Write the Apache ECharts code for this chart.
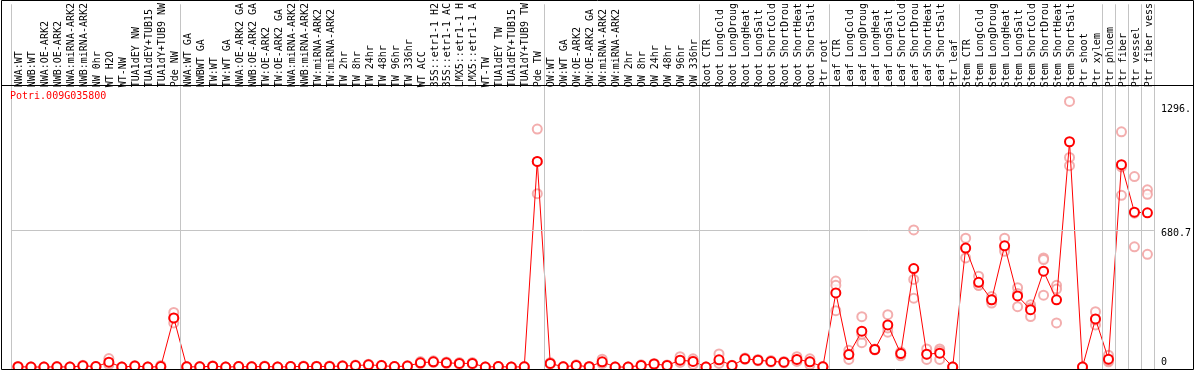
<!DOCTYPE html>
<html><head><meta charset="utf-8">
<script src="https://cdn.jsdelivr.net/npm/echarts@6/dist/echarts.min.js"></script>
<style>html,body{margin:0;padding:0;background:#fff}#c{width:1194px;height:370px}</style>
</head><body><div id="c"></div><script>
const geneName = 'Potri.009G035800';
const categories = [
'NWA:WT','NWB:WT','NWA:OE-ARK2','NWB:OE-ARK2','NWA:miRNA-ARK2','NWB:miRNA-ARK2','NW 0hr','WT H2O','WT-NW','TUA1dEY NW','TUA1dEY+TUB15','TUA1dY+TUB9 NW','Pde NW',
'NWA:WT GA','NWBWT GA','TW:WT','TW:WT GA','NWA:OE-ARK2 GA','NWB:OE-ARK2 GA','TW:OE-ARK2','TW:OE-ARK2 GA','NWA:miRNA-ARK2','NWB:miRNA-ARK2','TW:miRNA-ARK2','TW:miRNA-ARK2',
'TW 2hr','TW 8hr','TW 24hr','TW 48hr','TW 96hr','TW 336hr','WT ACC','35S::etr1-1 H2','35S::etr1-1 AC','LMX5::etr1-1 H','LMX5::etr1-1 A','WT-TW','TUA1dEY TW','TUA1dEY+TUB15','TUA1dY+TUB9 TW','Pde TW',
'OW:WT','OW:WT GA','OW:OE-ARK2','OW:OE-ARK2 GA','OW:miRNA-ARK2','OW:miRNA-ARK2','OW 2hr','OW 8hr','OW 24hr','OW 48hr','OW 96hr','OW 336hr',
'Root CTR','Root LongCold','Root LongDroug','Root LongHeat','Root LongSalt','Root ShortCold','Root ShortDrou','Root ShortHeat','Root ShortSalt','Ptr root',
'Leaf CTR','Leaf LongCold','Leaf LongDroug','Leaf LongHeat','Leaf LongSalt','Leaf ShortCold','Leaf ShortDrou','Leaf ShortHeat','Leaf ShortSalt','Ptr leaf',
'Stem CTR','Stem LongCold','Stem LongDroug','Stem LongHeat','Stem LongSalt','Stem ShortCold','Stem ShortDrou','Stem ShortHeat','Stem ShortSalt','Ptr shoot',
'Ptr xylem','Ptr phloem','Ptr fiber','Ptr vessel','Ptr fiber vess'
];
const meanValues = [
1.5,0,0,1,0,6,2,24,0,5,0,2,244,
1,1,4,0,2,1,3,0,2,3,3,3,
5,7,11,7,2,5,21,26,21,18,18,0,2,0,1,1021,
18,1,8,1.5,26,0,0,8,15,8,34,28,
0,36,7,41,34,28,24,38,26,1,
368,62,178,87,209,67,489,64,69,0,
591,421,334,602,353,285,476,334,1119,0,
239,39,1005,769,766
];
const rep1 = [
3,0,0,2,0,9,3,42,0,7,0,8,271,
2,2,6,0,3,2,5,0,3,5,4,5,
7,10,14,9,3,7,27,31,25,22,22,0,3,0,2,1182,
22,2,11,2,39,0,0,11,18,10,51,41,
0,65,9,45,38,32,28,51,41,2,
427,83,250,89,260,75,681,90,90,0,
640,451,350,640,394,309,542,406,1319,0,
275,59,1168,946,880
];
const rep2 = [
1,0,0,1,0,5,2,18,0,4,0,0,219,
1,1,3,0,2,1,2,0,2,2,3,2,
4,6,10,6,2,4,19,24,20,17,16,0,2,0,1,861,
16,1,7,1,22,0,0,7,14,7,28,30,
0,25,6,40,33,27,23,35,26,1,
406,38,121,85,173,56,435,38,38,0,
542,406,318,591,300,251,534,387,1041,0,
209,26,853,597,858
];
const rep3 = [
0.5,0,0,0,0,4,1,12,0,4,0,0,242,
0,0,3,0,1,0,2,0,1,2,2,2,
4,5,9,6,1,4,17,23,18,15,16,0,1,0,0,1020,
16,0,6,1.5,17,0,0,6,13,7,23,13,
0,18,6,38,31,25,21,28,11,0,
280,65,163,87,194,70,342,64,79,0,
591,406,334,575,365,295,357,219,1000,0,
233,32,994,764,560
];
const groupBoundaries = [0,13,41,53,63,73,84,85,86,87,88];
const yTickValues = [0, 680.7, 1296];
const yTickLabels = ['0', '680.7', '1296.'];
const gridLineValues = [680.7];

const FONT = 'DejaVu Sans Mono';
const chart = echarts.init(document.getElementById('c'), null, {renderer: 'canvas'});
const repData = [];
[rep1, rep2, rep3].forEach(r => r.forEach((v, i) => repData.push([i, v])));

chart.setOption({
  animation: false,
  backgroundColor: '#ffffff',
  title: {
    text: geneName, left: 10, top: 91, padding: 0,
    textStyle: {fontFamily: FONT, fontSize: 10, fontWeight: 'normal', color: '#ff0000'}
  },
  grid: {left: 11.5, right: 38.5, top: 0, bottom: 1, containLabel: false},
  xAxis: [{
    type: 'category', data: categories, position: 'top', offset: -85,
    boundaryGap: true,
    axisLine: {show: false}, axisTick: {show: false}, splitLine: {show: false},
    axisLabel: {rotate: 90, interval: 0, margin: 2, fontFamily: FONT, fontSize: 10, color: '#000',
      formatter: function (v) { return '{c|' + v + '}'; },
      rich: {c: {fontFamily: FONT, fontSize: 10, color: '#000', padding: [3, 0, 0, 0]}}}
  }, {
    type: 'value', min: 0, max: 88, show: false
  }],
  yAxis: {
    type: 'value', position: 'right', min: -9.8, max: 1801.7,
    axisLine: {show: false}, axisTick: {show: false}, splitLine: {show: false},
    axisLabel: {
      customValues: yTickValues, margin: 7, fontFamily: FONT, fontSize: 10, color: '#000',
      formatter: function (v) {
        let idx = yTickValues.findIndex(t => Math.abs(t - v) < 1e-6);
        const s = idx >= 0 ? yTickLabels[idx] : '';
        return v === 0 ? '{z|' + s + '}' : '{d|' + s + '}';
      },
      rich: {
        z: {fontFamily: FONT, fontSize: 10, color: '#000', padding: [0, 0, 10, 0]},
        d: {fontFamily: FONT, fontSize: 10, color: '#000', padding: [7, 0, 0, 0]}
      }
    }
  },
  series: [{
    type: 'line', xAxisIndex: 1, yAxisIndex: 0, data: [], silent: true, z: 1,
    markLine: {
      silent: true, symbol: 'none', label: {show: false},
      lineStyle: {color: '#c4c4c4', width: 1, type: 'solid'},
      data: groupBoundaries.map(b => ({xAxis: b}))
    }
  }, {
    type: 'scatter', xAxisIndex: 0, yAxisIndex: 0, data: repData, z: 2,
    symbol: 'emptyCircle', symbolSize: 9,
    itemStyle: {color: '#f09a9a', borderColor: '#f09a9a', borderWidth: 1.5}
  }, {
    type: 'line', xAxisIndex: 0, yAxisIndex: 0, data: meanValues, z: 3,
    symbol: 'emptyCircle', symbolSize: 9,
    lineStyle: {color: '#ff0000', width: 1},
    itemStyle: {color: '#ff0000', borderColor: '#ff0000', borderWidth: 2},
    markLine: {
      silent: true, symbol: 'none', label: {show: false},
      lineStyle: {color: '#c4c4c4', width: 1, type: 'solid'},
      data: gridLineValues.map(v => ({yAxis: v}))
    }
  }],
  graphic: [{
    type: 'rect', silent: true, z: 100,
    shape: {x: 1.5, y: 0.5, width: 1192, height: 369},
    style: {fill: null, stroke: '#000', lineWidth: 1}
  }, {
    type: 'line', silent: true, z: 100,
    shape: {x1: 1, y1: 85.5, x2: 1194, y2: 85.5},
    style: {stroke: '#000', lineWidth: 1}
  }]
});
</script></body></html>
